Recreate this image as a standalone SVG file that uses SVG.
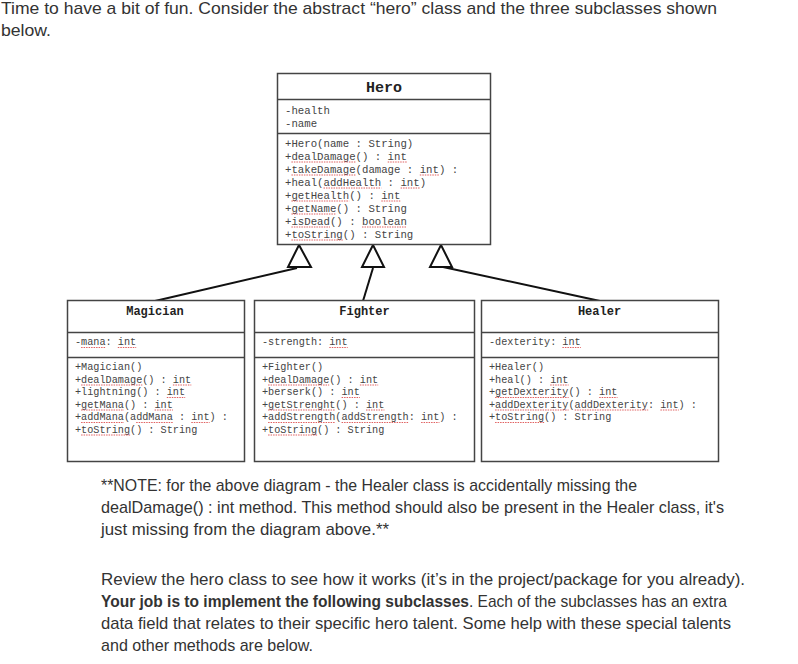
<svg xmlns="http://www.w3.org/2000/svg" width="798" height="664" viewBox="0 0 798 664">
<style>
.body{font-family:"Liberation Sans",Arial,sans-serif;font-size:17px;fill:#333}
.bold{font-weight:bold}
.box{fill:#fff;stroke:#444;stroke-width:1.5}
.div{stroke:#444;stroke-width:1.5}
.ttl{font-family:"Liberation Mono","Courier New",monospace;font-weight:bold;fill:#222;text-anchor:middle}
.mh{font-family:"Liberation Mono","Courier New",monospace;font-size:10.7px;fill:#444}
.ms{font-family:"Liberation Mono","Courier New",monospace;font-size:10.2px;fill:#444}
.sq{fill:none;stroke:#e06060;stroke-width:1;stroke-dasharray:1.5 1}
.conn{stroke:#111;stroke-width:2;fill:none}
.tri{fill:#fff;stroke:#111;stroke-width:2;stroke-linejoin:miter}
</style>
<rect width="798" height="664" fill="#fff"/>
<g id="intro">
<text class="body" x="1" y="14" textLength="716" lengthAdjust="spacingAndGlyphs">Time to have a bit of fun. Consider the abstract “hero” class and the three subclasses shown</text>
<text class="body" x="1" y="36" textLength="50" lengthAdjust="spacingAndGlyphs">below.</text>
</g>
<g id="connectors">
<path class="conn" d="M297 268 L155 301"/>
<path class="conn" d="M373 268 L363 301"/>
<path class="conn" d="M443 267 L600 301"/>
<path class="tri" d="M299 245 L288 267 L311 267 Z"/>
<path class="tri" d="M373 245 L362 267 L384 267 Z"/>
<path class="tri" d="M441 245 L430 267 L452 267 Z"/>
</g>
<g id="hero">
<rect class="box" x="277.5" y="73.5" width="213" height="171"/>
<line class="div" x1="277.5" y1="99.5" x2="490.5" y2="99.5"/>
<line class="div" x1="277.5" y1="133.5" x2="490.5" y2="133.5"/>
<text class="ttl" x="384" y="92" font-size="15">Hero</text>
<text class="mh" x="285" y="113.5">-health</text>
<text class="mh" x="285" y="126.5">-name</text>
<text class="mh" x="285" y="146.5">+Hero(name : String)</text>
<text class="mh" x="285" y="159.5">+dealDamage() : int</text>
<text class="mh" x="285" y="172.5">+takeDamage(damage : int) :</text>
<text class="mh" x="285" y="185.5">+heal(addHealth : int)</text>
<text class="mh" x="285" y="198.5">+getHealth() : int</text>
<text class="mh" x="285" y="211.5">+getName() : String</text>
<text class="mh" x="285" y="224.5">+isDead() : boolean</text>
<text class="mh" x="285" y="237.5">+toString() : String</text>
<path class="sq" d="M291.4 162H355.6M387.7 162H407M291.4 175H355.6M419.8 175H439.1M323.5 188H381.3M400.6 188H419.8M291.4 201H349.2M381.3 201H400.6M291.4 214H336.4M291.4 227H330M362 227H407M291.4 240H342.8"/>
</g>
<g id="magician">
<rect class="box" x="67.5" y="300.5" width="177" height="161"/>
<line class="div" x1="67.5" y1="332.5" x2="244.5" y2="332.5"/>
<line class="div" x1="67.5" y1="357.5" x2="244.5" y2="357.5"/>
<text class="ttl" x="155" y="315" font-size="12">Magician</text>
<text class="ms" x="75" y="345">-mana: int</text>
<text class="ms" x="75" y="370">+Magician()</text>
<text class="ms" x="75" y="382.5">+dealDamage() : int</text>
<text class="ms" x="75" y="395">+lightning() : int</text>
<text class="ms" x="75" y="407.5">+getMana() : int</text>
<text class="ms" x="75" y="420">+addMana(addMana : int) :</text>
<text class="ms" x="75" y="432.5">+toString() : String</text>
<path class="sq" d="M81.1 347.5H105.6M117.8 347.5H136.2M81.1 385H142.3M172.9 385H191.3M166.8 397.5H185.2M81.1 410H124M154.6 410H173M81.1 422.5H124M136.2 422.5H173M191.3 422.5H209.6M81.1 435H130.1"/>
</g>
<g id="fighter">
<rect class="box" x="254.5" y="300.5" width="220" height="161"/>
<line class="div" x1="254.5" y1="332.5" x2="474.5" y2="332.5"/>
<line class="div" x1="254.5" y1="357.5" x2="474.5" y2="357.5"/>
<text class="ttl" x="364.5" y="315" font-size="12">Fighter</text>
<text class="ms" x="262" y="345">-strength: int</text>
<text class="ms" x="262" y="370">+Fighter()</text>
<text class="ms" x="262" y="382.5">+dealDamage() : int</text>
<text class="ms" x="262" y="395">+berserk() : int</text>
<text class="ms" x="262" y="407.5">+getStrenght() : int</text>
<text class="ms" x="262" y="420">+addStrength(addStrength: int) :</text>
<text class="ms" x="262" y="432.5">+toString() : String</text>
<path class="sq" d="M329.3 347.5H347.7M268.1 385H329.2M359.9 385H378.2M341.6 397.5H359.9M268.1 410H335.4M366 410H384.4M268.1 422.5H335.4M341.6 422.5H408.9M421.1 422.5H439.4M268.1 435H317.1"/>
</g>
<g id="healer">
<rect class="box" x="481.5" y="300.5" width="237" height="161"/>
<line class="div" x1="481.5" y1="332.5" x2="718.5" y2="332.5"/>
<line class="div" x1="481.5" y1="357.5" x2="718.5" y2="357.5"/>
<text class="ttl" x="599.5" y="315" font-size="12">Healer</text>
<text class="ms" x="489" y="345">-dexterity: int</text>
<text class="ms" x="489" y="370">+Healer()</text>
<text class="ms" x="489" y="382.5">+heal() : int</text>
<text class="ms" x="489" y="395">+getDexterity() : int</text>
<text class="ms" x="489" y="407.5">+addDexterity(addDexterity: int) :</text>
<text class="ms" x="489" y="420">+toString() : String</text>
<path class="sq" d="M562.4 347.5H580.8M550.2 385H568.6M495.1 397.5H568.6M599.2 397.5H617.5M495.1 410H568.6M574.7 410H648.2M660.4 410H678.8M495.1 422.5H544.1"/>
</g>
<g id="notes">
<text class="body" x="101" y="491" textLength="536" lengthAdjust="spacingAndGlyphs">**NOTE: for the above diagram - the Healer class is accidentally missing the</text>
<text class="body" x="101" y="513" textLength="623" lengthAdjust="spacingAndGlyphs">dealDamage() : int method. This method should also be present in the Healer class, it's</text>
<text class="body" x="101" y="535" textLength="288" lengthAdjust="spacingAndGlyphs">just missing from the diagram above.**</text>
<text class="body" x="101" y="585" textLength="644" lengthAdjust="spacingAndGlyphs">Review the hero class to see how it works (it’s in the project/package for you already).</text>
<text class="body" x="101" y="607" textLength="626" lengthAdjust="spacingAndGlyphs"><tspan class="bold">Your job is to implement the following subclasses</tspan>.  Each of the subclasses has an extra</text>
<text class="body" x="101" y="629" textLength="630" lengthAdjust="spacingAndGlyphs">data field that relates to their specific hero talent.  Some help with these special talents</text>
<text class="body" x="101" y="651" textLength="212" lengthAdjust="spacingAndGlyphs">and other methods are below.</text>
</g>
</svg>
